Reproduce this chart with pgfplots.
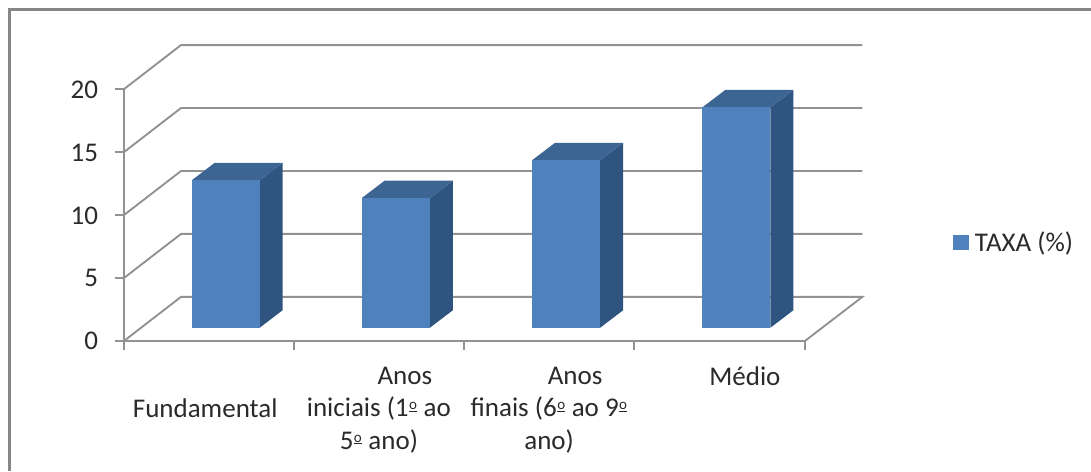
\documentclass[border=0pt]{standalone}
\usepackage{fontspec}
\setmainfont{Carlito}
\usepackage{pgfplots}
\pgfplotsset{compat=1.18}
\definecolor{barfront}{HTML}{4F81BD}
\definecolor{barside}{HTML}{2F5480}
\definecolor{bartop}{HTML}{3D6594}
\definecolor{gridc}{HTML}{929292}
\definecolor{framec}{HTML}{868686}
\definecolor{textc}{HTML}{2A2A2A}
% Calibri's underlined ordinal, Carlito has none
\newcommand{\ordo}{\kern0.5pt\raisebox{7pt}{\underline{\fontsize{15}{15}\selectfont o}}\kern0.5pt}
% bar in the 3D look: #1 category index, #2 value
\newcommand{\threedbar}[2]{%
  \addplot[fill=barside,draw=none,forget plot] coordinates {({#1+0.8},1.08) ({#1+0.935},2.47) ({#1+0.935},{2.47+#2}) ({#1+0.8},{1.08+#2})} --cycle;
  \addplot[fill=bartop,draw=none,forget plot] coordinates {({#1+0.4},{1.08+#2}) ({#1+0.535},{2.47+#2}) ({#1+0.935},{2.47+#2}) ({#1+0.8},{1.08+#2})} --cycle;
  \addplot[fill=barfront,draw=none,forget plot] coordinates {({#1+0.4},1.08) ({#1+0.8},1.08) ({#1+0.8},{1.08+#2}) ({#1+0.4},{1.08+#2})} --cycle;
}
\begin{document}
\begin{tikzpicture}[x=1pt,y=1pt]
  \path[use as bounding box] (0,0) rectangle (1091,471);
  \draw[framec,line width=2.2pt] (9.5,0) -- (9.5,461.5) -- (1091,461.5);
  \begin{axis}[
    at={(123.5pt,129.7pt)}, anchor=south west,
    scale only axis, width=681pt, height=251.8pt,
    xmin=0, xmax=4, ymin=0, ymax=20,
    clip=false,
    axis x line=bottom, axis y line=left,
    axis line style={gridc,line width=2pt,-},
    tick align=outside,
    xtick={0.48,1.5,2.5,3.65},
    xticklabels={{\strut\\[-5pt]Fundamental},{\hspace{52pt}Anos\\iniciais (1\ordo{} ao\\5\ordo{} ano)},{\hspace{52pt}Anos\\finais (6\ordo{} ao 9\ordo\\ano)},{Médio}},
    minor xtick={0,1,2,3,4},
    ytick={0,5,10,15,20},
    major x tick style={draw=none},
    major tick length=9pt, minor tick length=9pt,
    tick style={gridc,line width=2pt},
    x tick label style={align=center,yshift=-13pt},
    y tick label style={xshift=-13pt},
    tick label style={textc},
    font=\fontsize{27}{32.5}\selectfont,
    /pgf/number format/assume math mode=true,
    legend style={at={(1.218,0.392)},anchor=west,draw=none,fill=none,inner sep=0pt,
      font=\fontsize{27}{30}\selectfont,text=textc},
    legend image code/.code={\fill[barfront] (0pt,-7pt) rectangle (14.4pt,7pt);},
  ]
    % walls and floor
    \addplot[gridc,line width=1.9pt,forget plot] coordinates {(0,0) (0.338,3.53) (4.34,3.53) (4,0)};
    \addplot[gridc,line width=1.9pt,forget plot] coordinates {(0,5) (0.338,8.53) (4.34,8.53)};
    \addplot[gridc,line width=1.9pt,forget plot] coordinates {(0,10) (0.338,13.53) (4.34,13.53)};
    \addplot[gridc,line width=1.9pt,forget plot] coordinates {(0,15) (0.338,18.53) (4.34,18.53)};
    \addplot[gridc,line width=1.9pt,forget plot] coordinates {(0,20) (0.338,23.53) (4.34,23.53)};
    \threedbar{0}{11.7}
    \threedbar{1}{10.3}
    \threedbar{2}{13.3}
    \threedbar{3}{17.5}
    \addlegendimage{fill=barfront}
    \addlegendentry{\hspace{5pt}TAXA (\%)}
  \end{axis}
\end{tikzpicture}
\end{document}
